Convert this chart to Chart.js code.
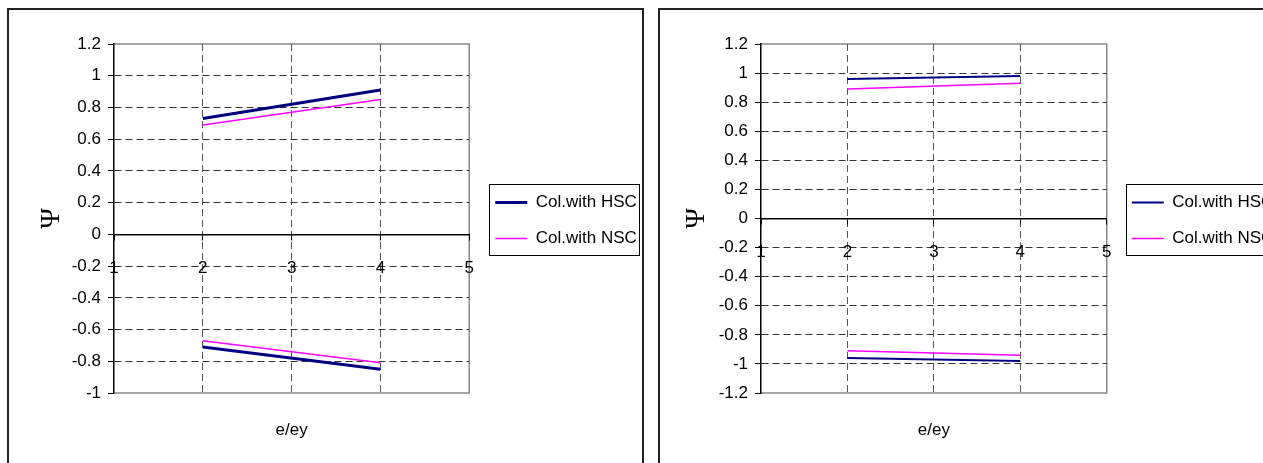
<!DOCTYPE html>
<html lang="en">
<head>
<meta charset="UTF-8">
<title>Psi vs e/ey</title>
<script src="https://cdn.jsdelivr.net/npm/chart.js"></script>
<style>
  body { margin: 0; background: #fff; overflow: hidden; width: 1263px; height: 463px; position: relative; }
  .frame { position: absolute; top: 8px; height: 520px; border: 2px solid #222; box-sizing: border-box; }
  canvas { position: absolute; top: 0; }
</style>
</head>
<body>
<div class="frame" style="left:7px; width:637px"></div>
<div class="frame" style="left:658px; width:700px"></div>
<canvas id="leftChart" width="650" height="463" style="left:0"></canvas>
<canvas id="rightChart" width="660" height="463" style="left:650px"></canvas>
<script>
// e/ey positions where the columns were evaluated
const xCats = [2, 4];
const xTicks = [1, 5];
const seriesNames = ['Col.with HSC', 'Col.with NSC'];

// left panel
const leftHscUpper = [0.73, 0.91];
const leftHscLower = [-0.71, -0.85];
const leftNscUpper = [0.69, 0.85];
const leftNscLower = [-0.67, -0.81];
const leftYRange = [-1, 1.2];

// right panel
const rightHscUpper = [0.96, 0.98];
const rightHscLower = [-0.96, -0.98];
const rightNscUpper = [0.89, 0.93];
const rightNscLower = [-0.91, -0.94];
const rightYRange = [-1.2, 1.2];

const FONT = 'Liberation Sans, Arial, sans-serif';
const LEGEND_PAD = 19;

// upper branch, a break, then lower branch of one series
function seriesData(upper, lower) {
  const pts = upper.map((y, i) => ({x: xCats[i], y: y}));
  pts.push({x: xCats[xCats.length - 1], y: null});
  return pts.concat(lower.map((y, i) => ({x: xCats[i], y: y})));
}

// grey border on top, right and bottom of the plot area
const plotFrame = {
  id: 'plotFrame',
  beforeDraw(chart) {
    const a = chart.chartArea, ctx = chart.ctx;
    ctx.save();
    ctx.strokeStyle = '#888';
    ctx.lineWidth = 1.5;
    ctx.beginPath();
    ctx.moveTo(a.left, a.top);
    ctx.lineTo(a.right, a.top);
    ctx.lineTo(a.right, a.bottom);
    ctx.lineTo(a.left, a.bottom);
    ctx.stroke();
    ctx.restore();
  },
  afterDraw(chart) {
    // x axis caption under the plot
    const a = chart.chartArea, ctx = chart.ctx;
    ctx.save();
    ctx.fillStyle = '#000';
    ctx.font = '17px ' + FONT;
    ctx.textAlign = 'center';
    ctx.textBaseline = 'middle';
    ctx.fillText('e/ey', (a.left + a.right) / 2, 430);
    ctx.restore();
  }
};

// move the legend away from the plot and box it
const legendBox = {
  id: 'legendBox',
  afterLayout(chart, args, opts) {
    const lg = chart.legend;
    lg.left += opts.dx;
    lg.right += opts.dx + LEGEND_PAD;
    lg.width = lg.right - lg.left;
    lg.top += opts.dy; lg.bottom += opts.dy;
  },
  afterDraw(chart, args, opts) {
    const hb = chart.legend.legendHitBoxes;
    if (!hb || !hb.length) return;
    const first = hb[0], last = hb[hb.length - 1];
    const x0 = first.left - opts.inset;
    const x1 = Math.max(...hb.map(b => b.left + b.width)) + 2;
    const y0 = first.top + first.height / 2 - 19;
    const y1 = last.top + last.height / 2 + 16;
    const ctx = chart.ctx;
    ctx.save();
    ctx.strokeStyle = '#000';
    ctx.lineWidth = 1;
    ctx.strokeRect(Math.round(x0) + 0.5, Math.round(y0) + 0.5, Math.round(x1 - x0), Math.round(y1 - y0));
    ctx.restore();
  }
};

function makeChart(id, hscUpper, hscLower, nscUpper, nscLower, yRange, geo) {
  const [yMin, yMax] = yRange;
  return new Chart(document.getElementById(id), {
    type: 'line',
    data: {
      datasets: [
        {
          label: seriesNames[0],
          data: seriesData(hscUpper, hscLower),
          borderColor: '#000080',
          backgroundColor: '#000080',
          borderWidth: geo.hscWidth
        },
        {
          label: seriesNames[1],
          data: seriesData(nscUpper, nscLower),
          borderColor: '#ff00ff',
          backgroundColor: '#ff00ff',
          borderWidth: 1.5
        }
      ]
    },
    options: {
      responsive: false,
      animation: false,
      spanGaps: false,
      elements: { point: { radius: 0 }, line: { tension: 0 } },
      layout: { padding: geo.padding },
      scales: {
        x: {
          type: 'linear',
          min: xTicks[0],
          max: xTicks[1],
          position: { y: 0 },
          ticks: { stepSize: 1, color: '#000', font: { family: FONT, size: 17 }, padding: 19 },
          grid: {
            color: c => (c.tick && (c.tick.value === xTicks[0] || c.tick.value === xTicks[1])) ? 'rgba(0,0,0,0)' : '#555',
            tickColor: '#000',
            tickLength: 5
          },
          border: { color: '#000', width: 1.5, dash: [7, 4] }
        },
        y: {
          min: yMin,
          max: yMax,
          afterFit(scale) { scale.width = geo.yWidth; },
          ticks: {
            stepSize: 0.2,
            color: '#000',
            font: { family: FONT, size: 17 },
            padding: 7,
            callback: v => String(Math.round(v * 10) / 10)
          },
          grid: {
            color: c => (c.tick && (Math.abs(c.tick.value - yMin) < 1e-6 || Math.abs(c.tick.value - yMax) < 1e-6)) ? 'rgba(0,0,0,0)' : '#333',
            tickColor: '#000',
            tickLength: 6
          },
          border: { color: '#000', width: 1.5, dash: [7, 4] },
          title: {
            display: true,
            text: 'Ψ',
            color: '#000',
            font: { family: 'Liberation Serif, serif', size: 28, lineHeight: 1 },
            padding: 0
          }
        }
      },
      plugins: {
        legend: {
          position: 'right',
          labels: {
            usePointStyle: true,
            pointStyle: 'line',
            pointStyleWidth: 32,
            padding: LEGEND_PAD,
            color: '#000',
            font: { family: FONT, size: 17 }
          }
        },
        tooltip: { enabled: false },
        legendBox: { dx: geo.legendDx, dy: 2, inset: geo.legendInset }
      }
    },
    plugins: [plotFrame, legendBox]
  });
}

makeChart('leftChart', leftHscUpper, leftHscLower, leftNscUpper, leftNscLower, leftYRange, {
  padding: { left: 38, top: 44, right: 37, bottom: 70 },
  yWidth: 76, hscWidth: 3, legendDx: 7, legendInset: 6
});
makeChart('rightChart', rightHscUpper, rightHscLower, rightNscUpper, rightNscLower, rightYRange, {
  padding: { left: 33, top: 44, right: 62, bottom: 70 },
  yWidth: 78, hscWidth: 2, legendDx: 6, legendInset: 6
});
</script>
</body>
</html>
